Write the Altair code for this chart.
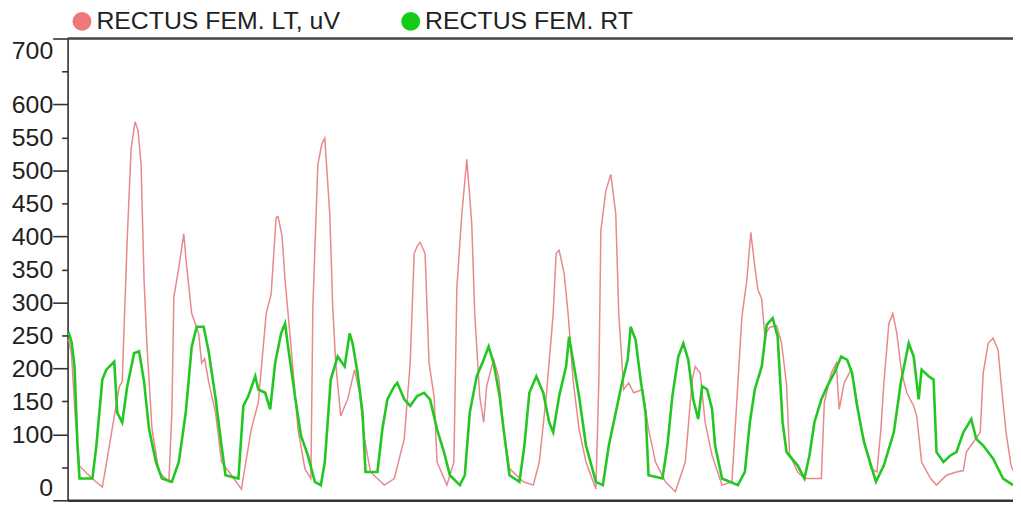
import altair as alt
import pandas as pd

LT_NAME = "RECTUS FEM. LT, uV"
RT_NAME = "RECTUS FEM. RT"

# sample index (time) and amplitude (uV)
LT_T = [69, 72, 76, 80, 88, 95, 103, 110, 120, 123, 128, 132, 136, 139, 142, 145, 148, 153, 160, 170,
        173, 175, 180, 185, 188, 193, 200, 203, 206, 210, 217, 223, 233, 243, 253, 260, 268, 273, 278, 280,
        284, 287, 293, 300, 307, 313, 315, 320, 324, 327, 332, 335, 338, 343, 350, 357, 362, 367, 373, 387,
        397, 407, 413, 417, 420, 423, 428, 432, 437, 440, 450, 457, 460, 465, 470, 475, 478, 483, 487, 490,
        497, 502, 507, 513, 527, 537, 543, 550, 557, 560, 563, 568, 572, 577, 583, 590, 600, 603, 605, 610,
        615, 620, 623, 628, 633, 638, 647, 653, 660, 670, 680, 690, 697, 700, 705, 710, 717, 727, 737, 742,
        747, 752, 756, 760, 763, 767, 770, 775, 782, 787, 792, 795, 803, 810, 827, 830, 837, 842, 845, 850,
        857, 862, 867, 877, 883, 887, 890, 895, 899, 903, 908, 913, 920, 923, 928, 937, 943, 953, 963, 970,
        973, 980, 987, 990, 995, 1000, 1005, 1008, 1013, 1018, 1020]
LT_V = [245, 220, 120, 52, 40, 30, 20, 82, 172, 180, 394, 534, 574, 560, 509, 334, 233, 108, 43, 28,
        133, 308, 353, 404, 353, 283, 253, 208, 215, 180, 133, 58, 38, 17, 108, 148, 283, 313, 429, 430,
        400, 334, 233, 108, 48, 33, 293, 509, 540, 549, 434, 293, 208, 128, 153, 198, 163, 93, 43, 23,
        33, 93, 208, 374, 385, 391, 374, 208, 158, 58, 23, 58, 323, 434, 517, 419, 283, 158, 118, 173,
        213, 188, 108, 48, 28, 23, 58, 158, 283, 374, 379, 344, 283, 183, 108, 58, 17, 183, 409, 469,
        494, 434, 283, 168, 178, 163, 168, 108, 58, 28, 13, 58, 183, 203, 193, 118, 68, 23, 28, 153,
        278, 334, 406, 355, 320, 305, 250, 262, 265, 238, 175, 70, 43, 33, 33, 148, 193, 208, 138, 178,
        198, 158, 108, 48, 43, 108, 178, 268, 283, 253, 193, 163, 143, 128, 58, 33, 23, 38, 43, 45,
        73, 88, 103, 193, 238, 246, 228, 178, 103, 53, 45]

RT_T = [69, 72, 75, 78, 80, 93, 97, 103, 107, 115, 118, 123, 128, 135, 140, 145, 150, 157, 163, 173,
        180, 187, 193, 198, 205, 210, 217, 223, 227, 240, 245, 250, 257, 260, 267, 272, 277, 283, 287, 290,
        297, 303, 310, 317, 323, 327, 333, 340, 347, 352, 355, 360, 365, 368, 380, 385, 390, 397, 400, 407,
        413, 420, 427, 433, 440, 447, 453, 463, 468, 473, 480, 487, 492, 497, 503, 507, 513, 523, 528, 533,
        540, 547, 553, 557, 563, 570, 573, 578, 583, 590, 600, 607, 613, 620, 627, 632, 635, 640, 645, 650,
        653, 667, 672, 677, 683, 688, 693, 698, 703, 707, 712, 717, 720, 727, 743, 750, 755, 760, 767, 772,
        778, 783, 788, 792, 803, 810, 815, 820, 827, 833, 840, 847, 853, 858, 863, 870, 877, 882, 890, 900,
        907, 915, 920, 925, 928, 935, 940, 943, 950, 957, 963, 970, 978, 983, 990, 1000, 1010, 1020]
RT_V = [255, 240, 203, 82, 33, 33, 83, 183, 198, 210, 133, 118, 172, 223, 226, 180, 108, 58, 33, 28,
        58, 133, 233, 263, 263, 226, 155, 83, 38, 33, 143, 158, 188, 168, 163, 138, 208, 253, 268, 233,
        158, 98, 68, 28, 23, 58, 183, 218, 203, 253, 238, 193, 133, 43, 43, 108, 153, 173, 178, 153,
        143, 158, 163, 153, 108, 73, 38, 23, 38, 133, 188, 213, 233, 208, 158, 108, 38, 28, 83, 163,
        188, 163, 118, 103, 158, 203, 248, 203, 158, 83, 28, 23, 83, 133, 183, 213, 263, 243, 183, 133,
        38, 33, 83, 158, 218, 238, 213, 153, 123, 173, 168, 138, 83, 33, 23, 43, 118, 168, 203, 266,
        276, 248, 118, 73, 53, 33, 68, 118, 153, 173, 193, 218, 213, 193, 143, 88, 53, 28, 53, 103,
        178, 238, 218, 153, 198, 188, 183, 73, 58, 68, 73, 103, 123, 93, 83, 63, 33, 23]

MAJOR_TICKS = list(range(0, 701, 100))
MINOR_TICKS = list(range(50, 651, 100))
MINOR_HIDDEN = [50, 650]

PINK = "#e8898b"
GREEN = "#22c722"
PINK_DOT = "#ef7878"
GREEN_DOT = "#13cc13"
FONT = "Liberation Sans"
INK = "#222222"
LINE_INK = "#333333"

df = pd.concat([
    pd.DataFrame({"t": LT_T, "v": LT_V, "s": LT_NAME}),
    pd.DataFrame({"t": RT_T, "v": RT_V, "s": RT_NAME}),
], ignore_index=True)

xs = alt.Scale(domain=[68, 1020], nice=False, zero=False)
ys = alt.Scale(domain=[0, 700], nice=False)

major_axis = alt.Axis(
    orient="left", values=MAJOR_TICKS, title=None, grid=False,
    labelFont=FONT, labelFontSize=25, labelColor=INK,
    labelFlush=True, labelOverlap=False, labelPadding=0,
    tickSize=15, tickColor=LINE_INK, tickWidth=1.6,
    domainColor=LINE_INK, domainWidth=1.6,
)
hidden = " || ".join(f"datum.value == {h}" for h in MINOR_HIDDEN)
minor_axis = alt.Axis(
    orient="left", values=MINOR_TICKS, title=None, grid=False,
    labelExpr=f"({hidden}) ? '' : datum.label",
    labelFont=FONT, labelFontSize=25, labelColor=INK,
    labelFlush=False, labelOverlap=False, labelPadding=9,
    tickSize=6, tickColor=LINE_INK, tickWidth=1.6,
    domain=False,
)
x_axis = alt.Axis(
    labels=False, ticks=False, grid=False, title=None,
    domainColor=LINE_INK, domainWidth=2.5,
)

base = alt.Chart(df)

lt_line = base.transform_filter(alt.datum.s == LT_NAME).mark_line(
    color=PINK, strokeWidth=1.5
).encode(
    x=alt.X("t:Q", scale=xs, axis=x_axis),
    y=alt.Y("v:Q", scale=ys, axis=major_axis),
)
rt_line = base.transform_filter(alt.datum.s == RT_NAME).mark_line(
    color=GREEN, strokeWidth=2.6
).encode(
    x=alt.X("t:Q", scale=xs),
    y=alt.Y("v:Q", scale=ys, axis=minor_axis),
)

legend_layer = base.transform_filter("false").mark_circle().encode(
    x=alt.X("t:Q", scale=xs),
    y=alt.Y("v:Q", scale=ys, axis=None),
    fill=alt.Fill(
        "s:N",
        scale=alt.Scale(domain=[LT_NAME, RT_NAME], range=[PINK_DOT, GREEN_DOT]),
        legend=alt.Legend(
            title=None,
            orient="none",
            legendX=2,
            legendY=-30,
            direction="horizontal",
            symbolType="circle",
            symbolSize=361,
            symbolStrokeWidth=0,
            symbolOpacity=1,
            labelFont=FONT,
            labelFontSize=25,
            labelColor=INK,
            labelOffset=2,
            labelLimit=600,
            columnPadding=58,
            padding=0,
        ),
    ),
)

top_rule = alt.Chart(alt.Data(values=[{}])).mark_rule(
    color="#444444", strokeWidth=2.5
).encode(y=alt.datum(700, scale=ys, axis=None))

chart = alt.layer(top_rule, lt_line, rt_line, legend_layer).resolve_axis(
    y="independent"
).properties(
    width=952,
    height=465,
    autosize=alt.AutoSizeParams(type="none"),
    padding={"left": 60, "top": 29, "right": 0, "bottom": 0},
).configure_view(stroke=None).configure(background="white")

chart.save("out.html", embed_options={"renderer": "svg", "actions": False})
